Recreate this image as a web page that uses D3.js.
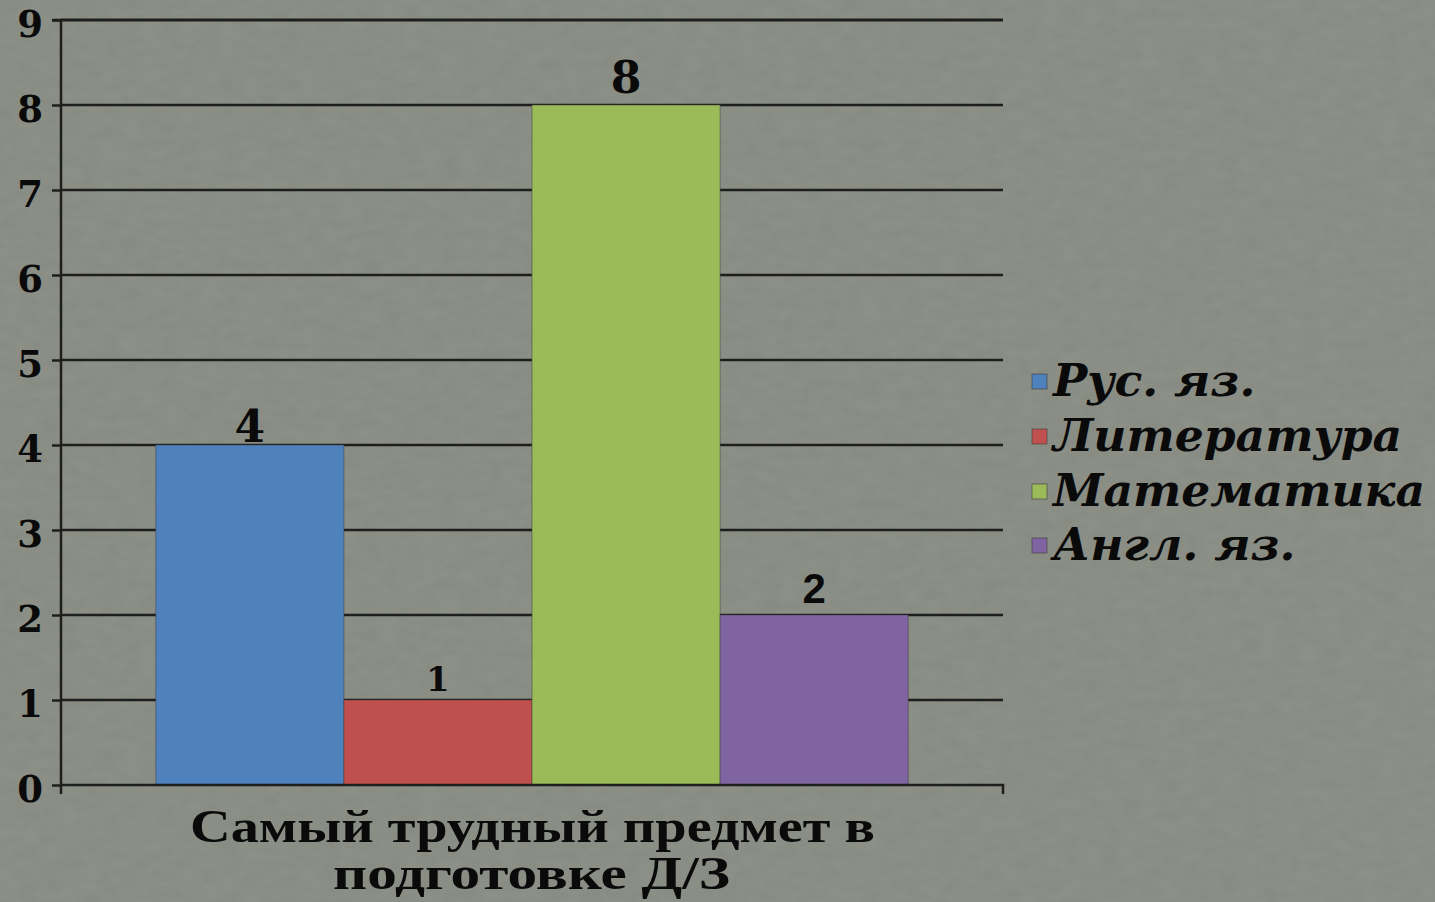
<!DOCTYPE html>
<html><head><meta charset="utf-8">
<script src="https://cdn.jsdelivr.net/npm/d3@7/dist/d3.min.js"></script>
<style>html,body{margin:0;padding:0;background:#878b82;}svg{display:block;}</style>
</head><body>
<svg id="c" width="1435" height="902"></svg>
<script>
const categories = ["Самый трудный предмет в подготовке Д/З"];
const seriesNames = ["Рус. яз.", "Литература", "Математика", "Англ. яз."];
const seriesValues = [4, 1, 8, 2];
const seriesColors = ["#4f81bd", "#c0504d", "#9bbb59", "#8064a2"];
const yTicks = [0, 1, 2, 3, 4, 5, 6, 7, 8, 9];
const titleLines = ["Самый трудный предмет в", "подготовке Д/З"];

(function(){
const svg = d3.select("#c");
const defs = svg.append("defs");
const f = defs.append("filter").attr("id","tex").attr("x",0).attr("y",0).attr("width","100%").attr("height","100%");
f.append("feTurbulence").attr("type","fractalNoise").attr("baseFrequency","0.05 0.1").attr("numOctaves",3).attr("seed",4).attr("result","n");
f.append("feColorMatrix").attr("in","n").attr("type","matrix")
 .attr("values","0 0 0 0 0.56  0 0 0 0 0.58  0 0 0 0 0.54  0 0 0 0.3 -0.05");
svg.append("rect").attr("width",1435).attr("height",902).attr("fill","#878b82");
svg.append("rect").attr("width",1435).attr("height",902).attr("filter","url(#tex)").attr("opacity",0.45);

const pLeft = 61, pRight = 1003, pTop = 20, pBottom = 785;
const y = d3.scaleLinear().domain([0, 9]).range([pBottom, pTop]);
const x0 = d3.scaleBand().domain(categories).range([pLeft, pRight]).paddingInner(0).paddingOuter(0.126);
const x1 = d3.scaleBand().domain(seriesNames).range([0, x0.bandwidth()]).padding(0);

// gridlines
svg.append("g").selectAll("line").data(yTicks.filter(d=>d>0)).join("line")
  .attr("x1", pLeft).attr("x2", pRight)
  .attr("y1", d=>y(d)).attr("y2", d=>y(d))
  .attr("stroke", "#1e1f1c").attr("stroke-width", d=>d===9?3:2.5);

// bars
const g = svg.append("g");
g.selectAll("rect").data(seriesNames).join("rect")
  .attr("x", (d)=>x0(categories[0]) + x1(d))
  .attr("width", x1.bandwidth())
  .attr("y", (d,i)=>y(seriesValues[i]))
  .attr("height", (d,i)=>y(0)-y(seriesValues[i]))
  .attr("fill", (d,i)=>seriesColors[i])
  .attr("stroke", "rgba(60,60,60,0.5)").attr("stroke-width", 1);

// y axis
const yAxis = d3.axisLeft(y).tickValues(yTicks).tickSize(9).tickPadding(9).tickFormat(d3.format("d"));
const ya = svg.append("g").attr("transform", `translate(${pLeft},0)`).call(yAxis);
ya.select(".domain").attr("stroke", "#1e1f1c").attr("stroke-width", 2.5).attr("d", `M-9,${pTop}H0V${pBottom}`);
ya.selectAll(".tick line").attr("stroke", "#1e1f1c").attr("stroke-width", 2.5);
ya.selectAll(".tick text").attr("fill", "#0a0a0a")
  .style("font-family", "'DejaVu Serif', serif").style("font-weight", "bold").style("font-size", "37px")
  .attr("dy", "0.45em");

// x axis
const xa = svg.append("g").attr("transform", `translate(0,${pBottom})`);
xa.append("path").attr("d", `M${pLeft},0H${pRight}V9`).attr("fill","none").attr("stroke","#1e1f1c").attr("stroke-width",2.5);
xa.append("line").attr("x1", pLeft).attr("x2", pLeft).attr("y1", 0).attr("y2", 9).attr("stroke","#1e1f1c").attr("stroke-width",2.5);

// data labels
const labelFonts = ["'DejaVu Serif', serif", "'DejaVu Serif', serif", "'DejaVu Serif', serif", "'Liberation Sans', Arial, sans-serif"];
const labelSizes = [44, 34, 44, 42];
const labelGap = [3, 9, 12, 12];
g.selectAll("text").data(seriesNames).join("text")
  .attr("x", d=>x0(categories[0]) + x1(d) + x1.bandwidth()/2)
  .attr("y", (d,i)=>y(seriesValues[i]) - labelGap[i])
  .attr("text-anchor","middle")
  .style("font-family", (d,i)=>labelFonts[i]).style("font-weight","bold")
  .style("font-size", (d,i)=>labelSizes[i]+"px").attr("fill","#0a0a0a")
  .text((d,i)=>seriesValues[i]);

// x title
const tl = svg.append("g");
const tlX = [[190, 685, 842], [333, 397, 889]];
titleLines.forEach((t, i)=>{
  tl.append("text").attr("x", tlX[i][0]).attr("y", tlX[i][2])
    .attr("textLength", tlX[i][1]).attr("lengthAdjust", "spacingAndGlyphs")
    .style("font-family", "'Liberation Serif', 'Times New Roman', serif").style("font-weight","bold")
    .style("font-size","46px").attr("fill","#0a0a0a").text(t);
});

// legend
const lg = svg.append("g").attr("transform","translate(1032,0)");
const rowY = [382, 437, 492, 546];
const items = lg.selectAll("g").data(seriesNames).join("g")
  .attr("transform", (d,i)=>`translate(0,${rowY[i]})`);
items.append("rect").attr("x",0).attr("y",-8).attr("width",15).attr("height",15)
  .attr("fill",(d,i)=>seriesColors[i]).attr("stroke","rgba(60,60,60,0.6)").attr("stroke-width",1);
const lt = items.append("text").attr("x", 21).attr("y", 14)
  .style("font-family","'DejaVu Serif', serif").style("font-weight","bold").style("font-style","italic")
  .style("font-size","42px").attr("fill","#0a0a0a").text(d=>d);
const w = lt.filter((d,i)=>i===2).node().getComputedTextLength();
const fs = 42 * 372 / w;
lt.style("font-size", fs + "px");
})();
</script>
</body></html>
